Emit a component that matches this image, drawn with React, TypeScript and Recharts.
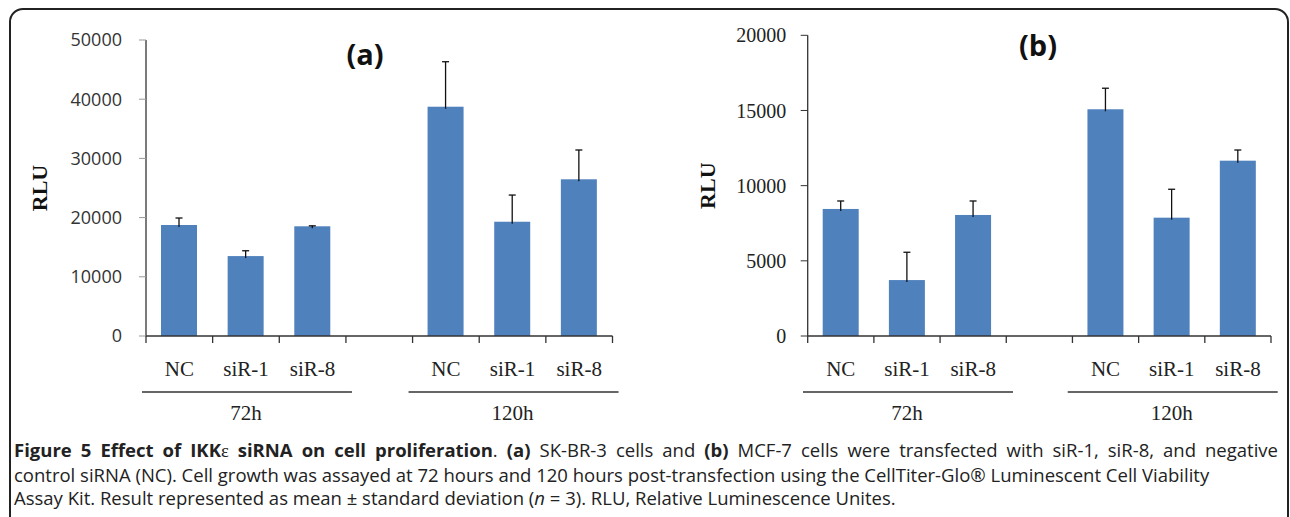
import React from 'react';
import { BarChart, Bar, XAxis, YAxis } from 'recharts';

// categories along both x axes (blank slot separates the two time points)
const conditions = ['NC', 'siR-1', 'siR-8', '', 'NC', 'siR-1', 'siR-8'];
const timepoints = ['72h', '72h', '72h', '', '120h', '120h', '120h'];

// (a) SK-BR-3, mean and SD of RLU
const meanA = [18750, 13500, 18530, null, 38730, 19300, 26470];
const sdA = [1180, 900, 80, null, 7600, 4510, 4950];
const ticksA = [0, 10000, 20000, 30000, 40000, 50000];

// (b) MCF-7, mean and SD of RLU
const meanB = [8450, 3720, 8050, null, 15080, 7870, 11660];
const sdB = [530, 1850, 930, null, 1400, 1890, 710];
const ticksB = [0, 5000, 10000, 15000, 20000];

const BLUE = '#4f81bd';
const SERIF = '"Liberation Serif", "Times New Roman", serif';
const SANS = '"Open Sans", "Noto Sans", sans-serif';

const buildRows = (mean: (number | null)[], sd: (number | null)[]) =>
  conditions.map((c, i) => ({ condition: c, time: timepoints[i], mean: mean[i], sd: sd[i] }));

const rowsA = buildRows(meanA, sdA);
const rowsB = buildRows(meanB, sdB);

// bar with an upward-only error bar (Excel style)
const BarWithError = (props: any) => {
  const { x, y, width, height, payload } = props;
  if (!payload || payload.mean == null || !height) return <g />;
  const errPx = (payload.sd * height) / payload.mean;
  const cx = x + width / 2;
  return (
    <g>
      <rect x={x} y={y} width={width} height={height} fill={BLUE} />
      <line x1={cx} x2={cx} y1={y + 2} y2={y - errPx} stroke="#111" strokeWidth={1.3} />
      <line x1={cx - 3.5} x2={cx + 3.5} y1={y - errPx} y2={y - errPx} stroke="#111" strokeWidth={1.3} />
    </g>
  );
};

// x tick: boundary tick marks, condition label, and group underline + label
const makeTick = (slot: number) => (props: any) => {
  const { x, y, index } = props;
  const left = x - slot / 2;
  const parts: React.ReactNode[] = [
    <line key="tl" x1={left} x2={left} y1={y} y2={y + 7} stroke="#333" strokeWidth={1.3} />,
  ];
  if (index === conditions.length - 1) {
    parts.push(<line key="tr" x1={left + slot} x2={left + slot} y1={y} y2={y + 7} stroke="#333" strokeWidth={1.3} />);
  }
  parts.push(
    <text key="lab" x={x} y={y + 40} textAnchor="middle" fontFamily={SERIF} fontSize={21} fill="#222">
      {conditions[index]}
    </text>
  );
  const t = timepoints[index];
  if (t && t !== timepoints[index - 1]) {
    let n = 0;
    while (timepoints[index + n] === t) n++;
    const center = left + (n * slot) / 2;
    parts.push(
      <line key="gl" x1={center - 104} x2={center + 106} y1={y + 56} y2={y + 56} stroke="#333" strokeWidth={1.5} />,
      <text key="gt" x={center} y={y + 84} textAnchor="middle" fontFamily={SERIF} fontSize={21} fill="#222">
        {t}
      </text>
    );
  }
  return <g>{parts}</g>;
};

const rluLabel = (offset: number) => ({
  value: 'RLU',
  angle: -90,
  position: 'insideLeft' as const,
  offset,
  style: { textAnchor: 'middle', fontFamily: SERIF, fontWeight: 700, fontSize: 22, fill: '#111' },
});

const SLOT_A = (640 - 27.5 - 146) / 7;
const SLOT_B = (630 - 19 - 147.7) / 7;

export default function App() {
  return (
    <div style={{ position: 'absolute', left: 0, top: 0, width: 1290, height: 517, overflow: 'hidden', background: '#fff' }}>
      <div
        style={{
          position: 'absolute', left: 9, top: 8, width: 1280, height: 620, boxSizing: 'border-box',
          border: '2px solid #222', borderRadius: 14,
        }}
      />

      <div style={{ position: 'absolute', left: 0, top: 0 }}>
        <BarChart width={640} height={430} data={rowsA} margin={{ top: 40, right: 27.5, bottom: 4, left: 20 }} barSize={36}>
          <XAxis
            dataKey="condition"
            interval={0}
            tickLine={false}
            tickSize={0}
            tickMargin={0}
            height={90}
            axisLine={{ stroke: '#333', strokeWidth: 1.3 }}
            tick={makeTick(SLOT_A)}
          />
          <YAxis
            width={126}
            domain={[0, 50000]}
            ticks={ticksA}
            tickSize={7}
            tickMargin={17}
            tickLine={{ stroke: '#999' }}
            axisLine={{ stroke: '#333', strokeWidth: 1.3 }}
            tick={{ fontFamily: SANS, fontSize: 18, fill: '#333' }}
            label={rluLabel(19)}
          />
          <Bar dataKey="mean" shape={BarWithError} isAnimationActive={false} />
        </BarChart>
      </div>

      <div style={{ position: 'absolute', left: 660, top: 0 }}>
        <BarChart width={630} height={430} data={rowsB} margin={{ top: 35.3, right: 19, bottom: 4, left: 20 }} barSize={36}>
          <XAxis
            dataKey="condition"
            interval={0}
            tickLine={false}
            tickSize={0}
            tickMargin={0}
            height={90}
            axisLine={{ stroke: '#333', strokeWidth: 1.3 }}
            tick={makeTick(SLOT_B)}
          />
          <YAxis
            width={127.7}
            domain={[0, 20000]}
            ticks={ticksB}
            tickSize={7}
            tickMargin={14.5}
            tickLine={{ stroke: '#333' }}
            axisLine={{ stroke: '#333', strokeWidth: 1.3 }}
            tick={{ fontFamily: SERIF, fontSize: 20, fill: '#222' }}
            label={rluLabel(27)}
          />
          <Bar dataKey="mean" shape={BarWithError} isAnimationActive={false} />
        </BarChart>
      </div>

      <div style={{ position: 'absolute', left: 365, top: 53, transform: 'translate(-50%, -50%)', fontFamily: SANS, fontWeight: 700, fontSize: 29, lineHeight: 1, color: '#111' }}>
        (a)
      </div>
      <div style={{ position: 'absolute', left: 1038, top: 44, transform: 'translate(-50%, -50%)', fontFamily: SANS, fontWeight: 700, fontSize: 29, lineHeight: 1, color: '#111' }}>
        (b)
      </div>

      <div style={{ position: 'absolute', left: 14, top: 438, width: 1264, fontFamily: SANS, fontSize: 18.5, lineHeight: '23px', color: '#222' }}>
        <div style={{ textAlign: 'justify', textAlignLast: 'justify', whiteSpace: 'nowrap' }}>
          <b>Figure 5 Effect of IKK<span style={{ fontFamily: SERIF, fontWeight: 400 }}>ε</span> siRNA on cell proliferation</b>. <b>(a)</b> SK-BR-3 cells and <b>(b)</b> MCF-7 cells were transfected with siR-1, siR-8, and negative
        </div>
        <div style={{ whiteSpace: 'nowrap' }}>
          control siRNA (NC). Cell growth was assayed at 72 hours and 120 hours post-transfection using the CellTiter-Glo® Luminescent Cell Viability
        </div>
        <div style={{ whiteSpace: 'nowrap' }}>
          Assay Kit. Result represented as mean ± standard deviation (<i>n</i> = 3). RLU, Relative Luminescence Unites.
        </div>
      </div>
    </div>
  );
}
